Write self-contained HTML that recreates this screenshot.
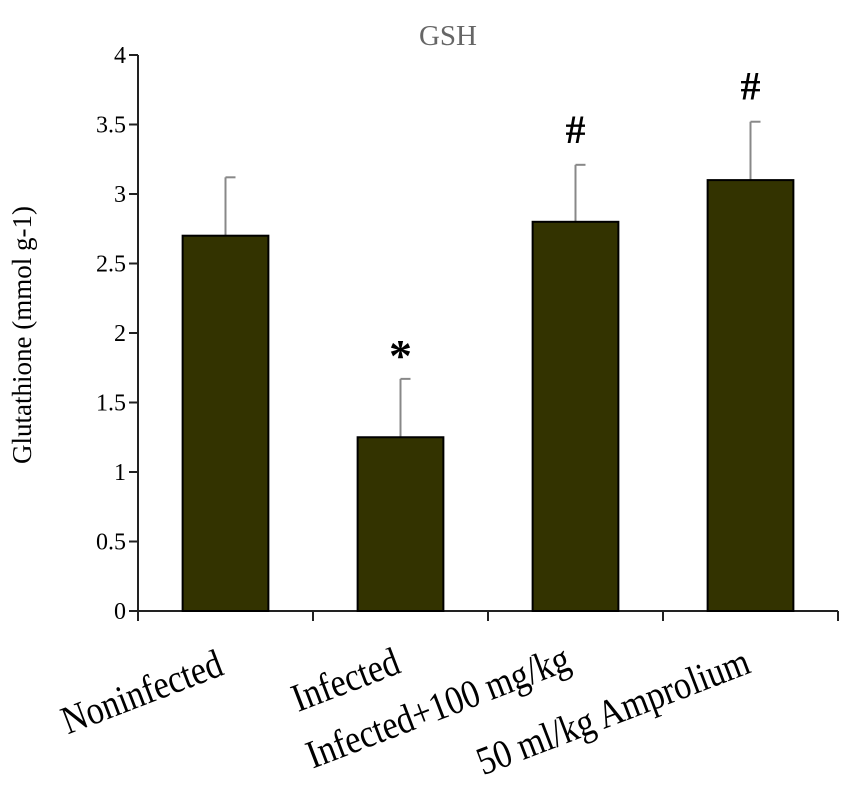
<!DOCTYPE html>
<html><head><meta charset="utf-8"><style>
body{margin:0;background:#fff}
svg{display:block}
text{font-family:"Liberation Serif",serif}
</style></head><body>
<svg id="c" width="851" height="797"></svg>
<script>
const categories=["Noninfected","Infected","Infected+100 mg/kg","50 ml/kg Amprolium"];
const values=[2.7,1.25,2.8,3.1];
const errors=[0.42,0.42,0.41,0.42];
const marks=["","*","#","#"];
const yTicks=[0,0.5,1,1.5,2,2.5,3,3.5,4];
const yTickLabels=["0","0.5","1","1.5","2","2.5","3","3.5","4"];
const NS="http://www.w3.org/2000/svg";
const svg=document.getElementById('c');
const x0=138,x1=838,y0=611,y1=55,ymax=4;
const y=v=>y0-(v/ymax)*(y0-y1);
const bw=(x1-x0)/categories.length;
const xc=i=>x0+bw*(i+0.5);
function mk(t,a,txt){const e=document.createElementNS(NS,t);for(const k in a)e.setAttribute(k,a[k]);if(txt!==undefined)e.textContent=txt;svg.appendChild(e);return e;}
let e;
e=mk('text',{x:448,y:45,'text-anchor':'middle','font-size':29,fill:'#666'},'GSH');


e=mk('text',{transform:'translate(31,335) rotate(-90)','text-anchor':'middle','font-size':27,fill:'#000'},'Glutathione (mmol g-1)');


e=mk('line',{x1:x0,y1:y1,x2:x0,y2:y0+1,stroke:'#222','stroke-width':2});


yTicks.forEach((t,i)=>{
  e=mk('line',{x1:x0-9,y1:y(t),x2:x0,y2:y(t),stroke:'#222','stroke-width':2});
  
  
  e=mk('text',{x:x0-12,y:y(t)+8,'text-anchor':'end','font-size':24,fill:'#000'},yTickLabels[i]);
  
  
});
e=mk('line',{x1:x0,y1:y0,x2:x1,y2:y0,stroke:'#222','stroke-width':2});


for(let i=0;i<=categories.length;i++){
  e=mk('line',{x1:x0+bw*i,y1:y0,x2:x0+bw*i,y2:y0+10,stroke:'#222','stroke-width':2});
  
  
}
const barW=bw*0.49;
const lblDx=[0,2,-3,2];
const lblDy=[63,61,58,61];
categories.forEach((c,i)=>{
  const top=y(values[i]+errors[i]);
  e=mk('line',{x1:xc(i),y1:y(values[i]),x2:xc(i),y2:top,stroke:'#888','stroke-width':2});
  
  
  e=mk('line',{x1:xc(i),y1:top,x2:xc(i)+10,y2:top,stroke:'#888','stroke-width':2});
  
  
  e=mk('rect',{x:xc(i)-barW/2,y:y(values[i]),width:barW,height:y0-y(values[i]),fill:'#333300',stroke:'#000','stroke-width':2});
  
  
  if(marks[i]){
    e=mk('text',{x:xc(i),y:top-(marks[i]==='*'?8:22),'text-anchor':'middle','font-size':marks[i]==='*'?46:40,'font-weight':'bold',fill:'#000'},marks[i]);
    
    
  }
  const ex=xc(i)+lblDx[i], ey=y0+lblDy[i];
  e=mk('text',{transform:`translate(${ex},${ey}) rotate(-21) scale(0.9,1.05)`,'text-anchor':'end','font-size':38,fill:'#000'},c);
  
  
});
</script>
</body></html>
